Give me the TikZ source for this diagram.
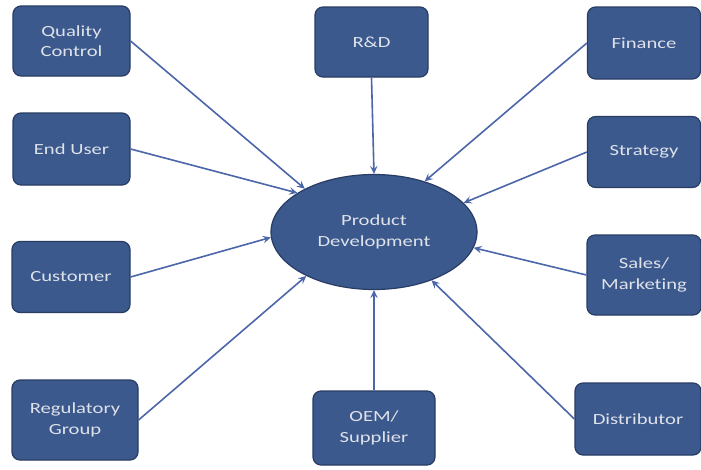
\documentclass[tikz,border=0pt]{standalone}
\usepackage{fontspec}
\usetikzlibrary{shapes.geometric,arrows.meta}
\newfontfamily\lblfont[FakeStretch=1.33,Ligatures=NoCommon]{Carlito}
\definecolor{boxfill}{RGB}{60,89,141}
\definecolor{boxedge}{RGB}{40,60,100}
\definecolor{linkblue}{RGB}{76,102,170}
\definecolor{lbltext}{RGB}{222,226,234}
\begin{document}
\begin{tikzpicture}[x=1pt,y=-1pt,
  unitbox/.style={draw=boxedge,line width=1.2pt,fill=boxfill,rounded corners=8pt,
    text=lbltext,font=\lblfont\fontsize{15.5}{20.5}\selectfont,align=center,inner sep=0pt},
  hub/.style={ellipse,draw=boxedge,line width=1.2pt,fill=boxfill,text=lbltext,
    font=\lblfont\fontsize{15.5}{20.5}\selectfont,align=center,inner sep=0pt,
    minimum width=206pt,minimum height=115pt},
  link/.style={draw=linkblue,line width=1.6pt,-{Stealth[length=8pt,width=7.5pt,inset=3pt]}}]
\useasboundingbox (0,0) rectangle (701,469);
\fill[white] (0,0) rectangle (701,469);

% central node
\node[hub] (pd) at (374,232) {Product\\Development};

% left column
\node[unitbox,minimum width=117pt,minimum height=70pt] (qc) at (71.5,41) {Quality\\Control};
\node[unitbox,minimum width=117pt,minimum height=72pt] (eu) at (71.5,149) {End User};
\node[unitbox,minimum width=118pt,minimum height=71pt] (cu) at (71,277) {Customer};
\node[unitbox,minimum width=126pt,minimum height=80pt] (rg) at (75,420) {Regulatory\\Group};

% middle column
\node[unitbox,minimum width=113pt,minimum height=70pt] (rd) at (371.5,42) {R\&D};
\node[unitbox,minimum width=122pt,minimum height=74pt] (oem) at (374,428) {OEM/\\Supplier};

% right column
\node[unitbox,minimum width=113pt,minimum height=72pt] (fi) at (644,43) {Finance};
\node[unitbox,minimum width=113pt,minimum height=71pt] (st) at (644,152) {Strategy};
\node[unitbox,minimum width=114pt,minimum height=80pt] (sm) at (644,275) {Sales/\\Marketing};
\node[unitbox,minimum width=126pt,minimum height=72pt] (di) at (638,419) {Distributor};

% connectors into the hub
\draw[link] (qc.east) -- (pd.148);
\draw[link] (eu.east) -- (pd.153);
\draw[link] (cu.east) -- (pd.183);
\draw[link] (rg.east) -- (pd.213);
\draw[link] (rd.south) -- (pd.north);
\draw[link] (oem.north) -- (pd.south);
\draw[link] (fi.west) -- (pd.45);
\draw[link] (st.west) -- (pd.18);
\draw[link] (sm.west) -- (pd.351);
\draw[link] (di.west) -- (pd.320);
\end{tikzpicture}
\end{document}
